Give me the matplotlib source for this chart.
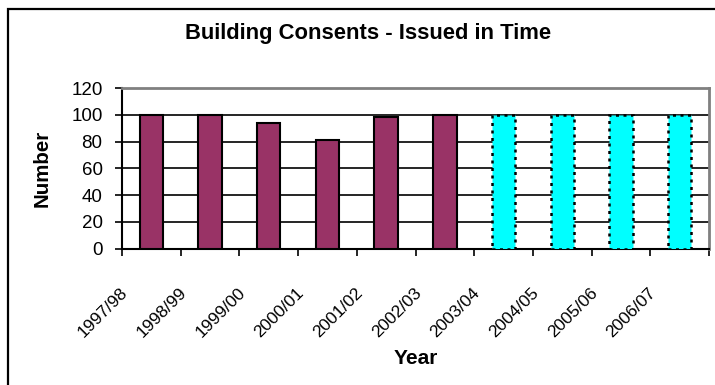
import matplotlib
matplotlib.use("Agg")
import matplotlib.pyplot as plt
from matplotlib.patches import Rectangle
from matplotlib.transforms import ScaledTranslation

plt.rcParams['font.family'] = ['Liberation Sans', 'DejaVu Sans']

# Financial years on the category axis
years = ['1997/98', '1998/99', '1999/00', '2000/01', '2001/02',
         '2002/03', '2003/04', '2004/05', '2005/06', '2006/07']
# Consents issued in time (actual years)
issued_years = ['1997/98', '1998/99', '1999/00', '2000/01', '2001/02', '2002/03']
issued_values = [100, 100, 94, 81, 98, 100]
# Target years
target_years = ['2003/04', '2004/05', '2005/06', '2006/07']
target_values = [100, 100, 100, 100]
y_ticks = [0, 20, 40, 60, 80, 100, 120]

W, H, DPI = 715, 385, 100
fig = plt.figure(figsize=(W / DPI, H / DPI), dpi=DPI)
fig.patch.set_facecolor('white')

ax = fig.add_axes([122 / W, 1 - 248.5 / H, (709 - 122) / W, (248.5 - 88) / H])

pos = {y: i for i, y in enumerate(years)}
bar_w = 0.4

ax.bar([pos[y] for y in issued_years], issued_values, width=bar_w,
       color='#993366', edgecolor='black', linewidth=1.5, zorder=3)
ax.bar([pos[y] for y in target_years], target_values, width=bar_w,
       color='#00FFFF', edgecolor='black', linewidth=1.8,
       linestyle=(0, (1.2, 1.8)), zorder=3)

ax.set_xlim(-0.5, len(years) - 0.5)
ax.set_ylim(0, 120)
ax.set_yticks(y_ticks)
ax.set_yticklabels([str(v) for v in y_ticks], fontsize=13.5)
ax.yaxis.grid(True, color='black', linewidth=1.2, zorder=0)
ax.set_axisbelow(True)

# Tick marks on the category boundaries, labels on the category centres
ax.set_xticks([i - 0.5 for i in range(len(years) + 1)], minor=True)
ax.set_xticks(range(len(years)))
ax.set_xticklabels(years, fontsize=12.5, rotation=45, ha='right',
                   va='center', rotation_mode='anchor')
ax.tick_params(axis='x', which='major', length=0, pad=30)
ax.tick_params(axis='x', which='minor', length=5, width=1.2, direction='out',
               color='black')
ax.tick_params(axis='y', length=5, width=1.2, direction='out', pad=9,
               color='black')
shift = ScaledTranslation(-0.26, 0, fig.dpi_scale_trans)
for lbl in ax.get_xticklabels():
    lbl.set_transform(lbl.get_transform() + shift)

for side in ('left', 'bottom'):
    ax.spines[side].set_color('black')
    ax.spines[side].set_linewidth(1.5)
for side in ('top', 'right'):
    ax.spines[side].set_color('#808080')
    ax.spines[side].set_linewidth(2)

fig.text(368 / W, 1 - 34 / H, 'Building Consents - Issued in Time',
         ha='center', va='center', fontsize=15.8, fontweight='bold')
fig.text(42 / W, 1 - 168 / H, 'Number', rotation=90, ha='center',
         va='center', fontsize=14.8, fontweight='bold')
fig.text(416 / W, 1 - 358 / H, 'Year', ha='center', va='center',
         fontsize=15, fontweight='bold')

# Chart-area frame
fig.patches.append(Rectangle((7.5 / W, -0.1), 1.2, 1.1 - 8.5 / H,
                             transform=fig.transFigure, fill=False,
                             edgecolor='black', linewidth=1.6))

fig.savefig('out.png', dpi=DPI, facecolor='white')
